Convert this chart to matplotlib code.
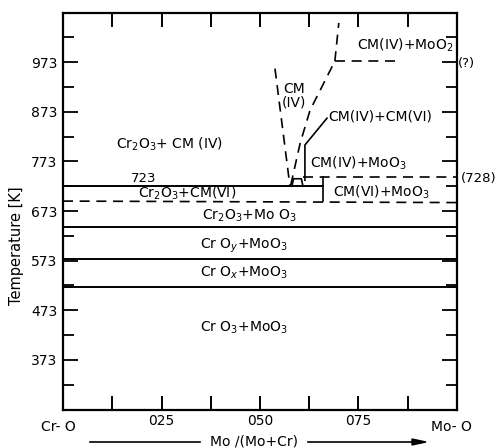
import matplotlib
matplotlib.use("Agg")
import matplotlib.pyplot as plt
from matplotlib.lines import Line2D

# ---------------- data ----------------
# composition axis: Mo/(Mo+Cr), temperature axis in K
x_tick_pos = [0.25, 0.50, 0.75]
x_tick_labels = ["025", "050", "075"]
x_minor_pos = [0.125, 0.375, 0.625, 0.875]
y_major = [373, 473, 573, 673, 773, 873, 973]
y_minor = [323, 423, 523, 623, 723, 823, 923, 1023]

# full-width solid phase boundaries (K)
full_solid_T = [641, 576, 520]
# solid 723 K boundary (Cr2O3 + CM(IV) / Cr2O3 + CM(VI))
line723_x = [0.0, 0.66]
line723_T = [723, 723]
# vertical solid step at x = 0.66
step_x = [0.66, 0.66]
step_T = [742, 693]
# dashed boundary under Cr2O3+CM(VI) / CM(VI)+MoO3
dash_low_x = [0.0, 1.0]
dash_low_T = [693, 690]
# dashed (728) boundary
dash728_x = [0.609, 1.0]
dash728_T = [742, 742]
# CM(IV) single-phase wedge
wedge_left_x = [0.538, 0.576]
wedge_left_T = [960, 723]
wedge_right_x = [0.578, 0.602, 0.627, 0.690]
wedge_right_T = [725, 810, 876, 975]
# upper dashed boundaries
upper_vert_x = [0.690, 0.700]
upper_vert_T = [975, 1052]
upper_horiz_x = [0.690, 0.845]
upper_horiz_T = [975, 975]
# solid CM(IV)+CM(VI) boundary / leader
cmvi_x = [0.670, 0.614, 0.614]
cmvi_T = [860, 806, 735]
# small cap at the wedge vertex
cap_x = [0.581, 0.585, 0.605, 0.609]
cap_T = [723, 738, 738, 723]

# region labels: (x, T, text)
labels = [
    (0.135, 798, r"Cr$_2$O$_3$+ CM (IV)"),
    (0.190, 700, r"Cr$_2$O$_3$+CM(VI)"),
    (0.353, 655, r"Cr$_2$O$_3$+Mo O$_3$"),
    (0.348, 598, r"Cr O$_y$+MoO$_3$"),
    (0.348, 540, r"Cr O$_x$+MoO$_3$"),
    (0.348, 429, r"Cr O$_3$+MoO$_3$"),
    (0.746, 999, r"CM(IV)+MoO$_2$"),
    (0.558, 911, "CM"),
    (0.556, 884, "(IV)"),
    (0.673, 856, "CM(IV)+CM(VI)"),
    (0.627, 760, r"CM(IV)+MoO$_3$"),
    (0.685, 703, r"CM(VI)+MoO$_3$"),
]
value_labels = [
    (0.205, 731, "723", "center"),
    (1.003, 963, "(?)", "left"),
    (1.009, 731, "(728)", "left"),
]

# ---------------- figure ----------------
W, H = 497, 448
fig = plt.figure(figsize=(W / 100, H / 100), dpi=100)
plt.rcParams["font.family"] = ["DejaVu Sans"]
ax = fig.add_axes([63 / W, 1 - 410 / H, (457 - 63) / W, (410 - 13) / H])
ax.set_xlim(0, 1)
ax.set_ylim(272, 1072)

lw = 1.4
dash = (0, (6, 4))
for T in full_solid_T:
    ax.plot([0, 1], [T, T], color="black", lw=lw)
ax.plot(line723_x, line723_T, color="black", lw=lw)
ax.plot(step_x, step_T, color="black", lw=1.2)
ax.plot(dash_low_x, dash_low_T, color="black", lw=1.2, ls=dash)
ax.plot(dash728_x, dash728_T, color="black", lw=1.2, ls=dash)
ax.plot(wedge_left_x, wedge_left_T, color="black", lw=1.2, ls=dash)
ax.plot(wedge_right_x, wedge_right_T, color="black", lw=1.2, ls=dash)
ax.plot(upper_vert_x, upper_vert_T, color="black", lw=1.2, ls=dash)
ax.plot(upper_horiz_x, upper_horiz_T, color="black", lw=1.2, ls=dash)
ax.plot(cmvi_x, cmvi_T, color="black", lw=1.2)
ax.plot(cap_x, cap_T, color="black", lw=1.2)

fs = 10
for x, T, s in labels:
    ax.text(x, T, s, fontsize=fs, ha="left", va="baseline")
for x, T, s, ha in value_labels:
    ax.text(x, T, s, fontsize=9.5, ha=ha, va="baseline", clip_on=False)

# ticks
ax.set_xticks(x_tick_pos)
ax.set_xticklabels(x_tick_labels, fontsize=fs)
ax.set_xticks(x_minor_pos, minor=True)
ax.set_yticks(y_major)
ax.set_yticklabels([str(v) for v in y_major], fontsize=fs)
ax.set_yticks(y_minor, minor=True)
ax.tick_params(axis="x", which="both", direction="in", top=True, bottom=True,
               length=10, width=1.4, pad=3)
ax.tick_params(axis="y", which="major", direction="in", left=True, right=True,
               length=11, width=1.3, pad=4)
ax.tick_params(axis="y", which="minor", direction="in", left=True, right=True,
               length=8, width=1.3)
for sp in ax.spines.values():
    sp.set_linewidth(1.6)

# end labels on composition axis
fig.text(58 / W, 1 - 427 / H, "Cr- O", fontsize=fs, ha="center", va="center")
fig.text(451 / W, 1 - 427 / H, "Mo- O", fontsize=fs, ha="center", va="center")

# axis titles
fig.text(254 / W, 1 - 441 / H, "Mo /(Mo+Cr)", fontsize=fs, ha="center", va="center")
fig.add_artist(Line2D([90 / W, 200 / W], [1 - 442 / H, 1 - 442 / H],
                      transform=fig.transFigure, color="black", lw=1.2))
fig.add_artist(Line2D([308 / W, 415 / W], [1 - 442 / H, 1 - 442 / H],
                      transform=fig.transFigure, color="black", lw=1.2))
fig.patches.append(plt.Polygon([[412 / W, 1 - 439 / H], [426 / W, 1 - 442 / H],
                                [412 / W, 1 - 445 / H]], closed=True,
                               transform=fig.transFigure, color="black"))
fig.text(17 / W, 1 - 246 / H, "Temperature [K]", fontsize=fs + 0.5, rotation=90,
         ha="center", va="center")

fig.savefig("out.png", dpi=100)
